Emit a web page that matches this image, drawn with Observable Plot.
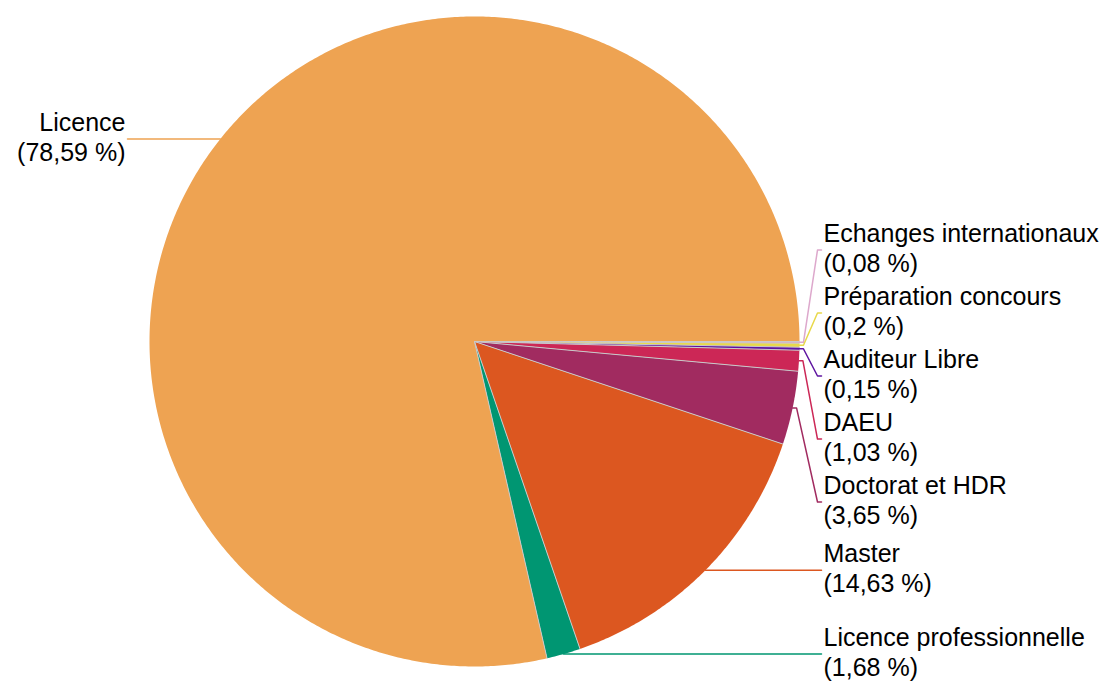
<!DOCTYPE html>
<html>
<head>
<meta charset="utf-8">
<script src="https://cdn.jsdelivr.net/npm/d3@7"></script>
<script src="https://cdn.jsdelivr.net/npm/@observablehq/plot@0.6"></script>
<style>
  html, body { margin: 0; padding: 0; background: #ffffff; }
  #chart svg { display: block; }
</style>
</head>
<body>
<div id="chart"></div>
<script>
// ---- Data ----
const categories = [
  "Echanges internationaux",
  "Préparation concours",
  "Auditeur Libre",
  "DAEU",
  "Doctorat et HDR",
  "Master",
  "Licence professionnelle",
  "Licence"
];
const shares = [0.08, 0.2, 0.15, 1.03, 3.65, 14.63, 1.68, 78.59];
const colors = [
  "#dda8cc", "#e8d84a", "#5e14a0", "#cc2756",
  "#a12b60", "#dc5720", "#009672", "#eea352"
];

// ---- Layout ----
const W = 1100, H = 686;
const cx = 474, cy = 341, R = 325;
const rightX = 823, leftX = 125;
const lineH = 30, fontSize = 25;
const blockGap = 63;

const total = d3.sum(shares);
let acc = 0;
const slices = categories.map((name, i) => {
  const a0 = acc / total * 2 * Math.PI;
  acc += shares[i];
  const a1 = acc / total * 2 * Math.PI;
  return {name, value: shares[i], color: colors[i], a0, a1, mid: (a0 + a1) / 2};
});

// polygon points for each slice
const polyPoints = [];
for (const s of slices) {
  polyPoints.push({name: s.name, color: s.color, x: cx, y: cy});
  const n = Math.max(2, Math.ceil((s.a1 - s.a0) / (Math.PI / 360)));
  for (let k = 0; k <= n; k++) {
    const a = s.a0 + (s.a1 - s.a0) * k / n;
    polyPoints.push({name: s.name, color: s.color, x: cx + R * Math.cos(a), y: cy + R * Math.sin(a)});
  }
}
// radial separators
const seps = slices.map(s => ({x1: cx, y1: cy, x2: cx + R * Math.cos(s.a0), y2: cy + R * Math.sin(s.a0)}));

// label placement (cluster overlapping labels)
function placeSide(items) {
  items.sort((a, b) => a.nat - b.nat);
  let clusters = items.map(it => ({members: [it]}));
  const layout = c => {
    const m = d3.mean(c.members, d => d.nat);
    const k = c.members.length;
    c.members.forEach((d, j) => d.y = m + (j - (k - 1) / 2) * blockGap);
  };
  clusters.forEach(layout);
  let changed = true;
  while (changed) {
    changed = false;
    for (let i = 1; i < clusters.length; i++) {
      const prev = clusters[i - 1], cur = clusters[i];
      const lastPrev = prev.members[prev.members.length - 1];
      if (cur.members[0].y - lastPrev.y < blockGap) {
        prev.members = prev.members.concat(cur.members);
        layout(prev);
        clusters.splice(i, 1);
        changed = true;
        break;
      }
    }
  }
  clusters.forEach(c => { if (c.members.length > 1) c.members.forEach(d => d.y += lineH / 2); });
}
const labelItems = slices.map(s => {
  const px = cx + R * Math.cos(s.mid), py = cy + R * Math.sin(s.mid);
  return {name: s.name, color: s.color, right: Math.cos(s.mid) >= 0, px, py, nat: py,
          text: s.name + "\n(" + String(s.value).replace(".", ",") + " %)"};
});
placeSide(labelItems.filter(d => d.right));
placeSide(labelItems.filter(d => !d.right));

const leaderPoints = [];
for (const d of labelItems) {
  const sgn = d.right ? 1 : -1;
  const lx = d.right ? rightX : leftX;
  leaderPoints.push({name: d.name, color: d.color, x: d.px, y: d.py});
  leaderPoints.push({name: d.name, color: d.color, x: d.px + 4 * sgn, y: d.py});
  leaderPoints.push({name: d.name, color: d.color, x: lx - 6 * sgn, y: d.y});
  leaderPoints.push({name: d.name, color: d.color, x: lx - 2 * sgn, y: d.y});
}

const chart = Plot.plot({
  width: W,
  height: H,
  margin: 0,
  x: {domain: [0, W], range: [0, W], axis: null},
  y: {domain: [0, H], range: [0, H], axis: null},
  color: {type: "identity"},
  style: {fontFamily: "'Liberation Sans', Arial, sans-serif", background: "#ffffff"},
  marks: [
    Plot.line(polyPoints, {x: "x", y: "y", z: "name", fill: "color", stroke: "none"}),
    Plot.link(seps, {x1: "x1", y1: "y1", x2: "x2", y2: "y2", stroke: "#c9c9c9", strokeWidth: 1}),
    Plot.line(leaderPoints, {x: "x", y: "y", z: "name", stroke: "color", strokeWidth: 1.5}),
    Plot.text(labelItems.filter(d => d.right), {x: () => rightX, y: "y", dy: -3, text: "text", textAnchor: "start", lineHeight: lineH / fontSize, fontSize: fontSize, fill: "#000"}),
    Plot.text(labelItems.filter(d => !d.right), {x: () => leftX, y: "y", dy: -3, text: "text", textAnchor: "end", lineHeight: lineH / fontSize, fontSize: fontSize, fill: "#000"})
  ]
});
document.getElementById("chart").appendChild(chart);
</script>
</body>
</html>
